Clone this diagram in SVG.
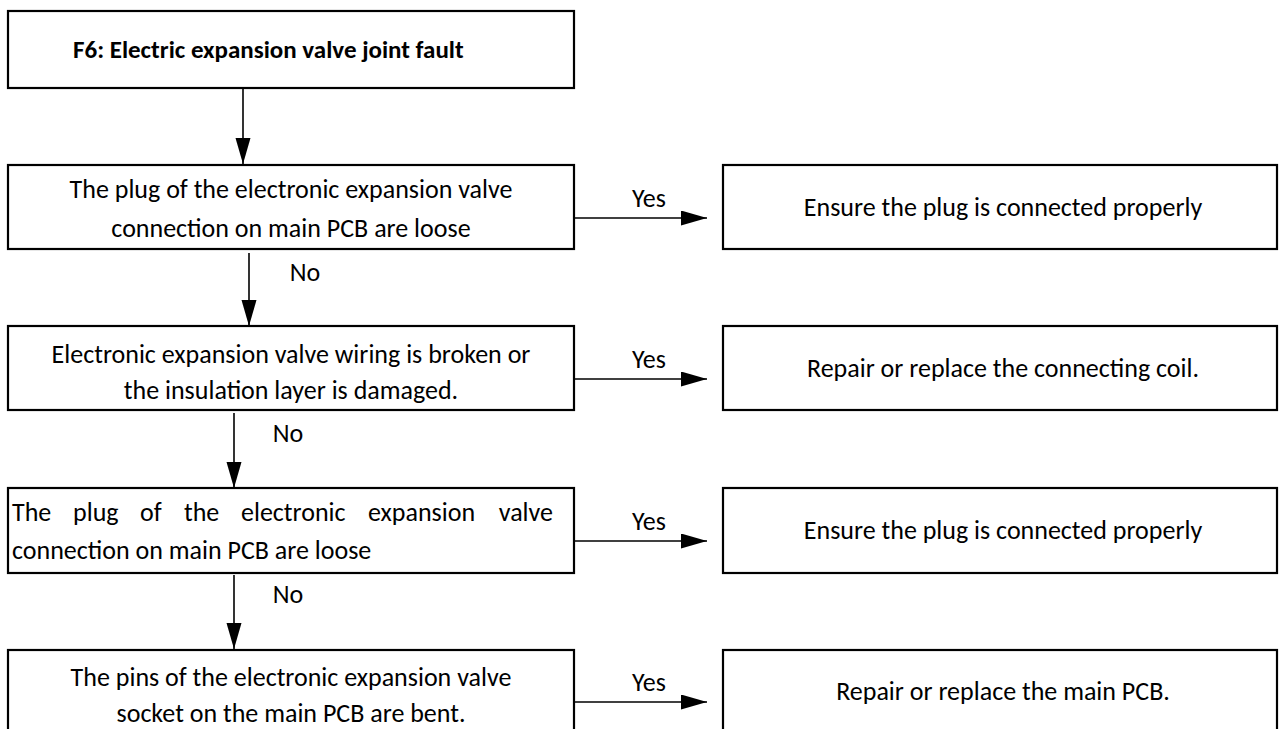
<svg xmlns="http://www.w3.org/2000/svg" width="1284" height="729" viewBox="0 0 1284 729">
<style>
.box{fill:#fff;stroke:#000;stroke-width:2.2}
.t{font-family:Carlito,Lato,"Liberation Sans",sans-serif;font-size:26px;fill:#000}
.c{text-anchor:middle}
.b{font-weight:bold;font-size:25px}
.ln{stroke:#000;stroke-width:1.6;fill:none}
</style>
<defs>
<marker id="ah" markerUnits="userSpaceOnUse" markerWidth="26" markerHeight="16" refX="26" refY="7.5" orient="auto">
<path d="M0,0 L26,7.5 L0,15 z" fill="#000"/>
</marker>
</defs>
<rect width="1284" height="729" fill="#fff"/>
<g id="connectors">
<line class="ln" x1="243" y1="88" x2="243" y2="164" marker-end="url(#ah)"/>
<line class="ln" x1="249" y1="253" x2="249" y2="326" marker-end="url(#ah)"/>
<line class="ln" x1="234" y1="413" x2="234" y2="488" marker-end="url(#ah)"/>
<line class="ln" x1="234" y1="575" x2="234" y2="649" marker-end="url(#ah)"/>
<line class="ln" x1="574" y1="218" x2="707" y2="218" marker-end="url(#ah)"/>
<line class="ln" x1="574" y1="379" x2="707" y2="379" marker-end="url(#ah)"/>
<line class="ln" x1="574" y1="541" x2="707" y2="541" marker-end="url(#ah)"/>
<line class="ln" x1="574" y1="702" x2="707" y2="702" marker-end="url(#ah)"/>
<text class="t c" x="649" y="207">Yes</text>
<text class="t c" x="649" y="368">Yes</text>
<text class="t c" x="649" y="530">Yes</text>
<text class="t c" x="649" y="691">Yes</text>
<text class="t c" x="305" y="281">No</text>
<text class="t c" x="288" y="442">No</text>
<text class="t c" x="288" y="603">No</text>
</g>
<g id="n1">
<rect class="box" x="8" y="11" width="566" height="77"/>
<text class="t b" x="73" y="58">F6: Electric expansion valve joint fault</text>
</g>
<g id="n2">
<rect class="box" x="8" y="165" width="566" height="84"/>
<text class="t c" x="291" y="198">The plug of the electronic expansion valve</text>
<text class="t c" x="291" y="237">connection on main PCB are loose</text>
</g>
<g id="n3">
<rect class="box" x="8" y="326" width="566" height="84"/>
<text class="t c" x="291" y="363">Electronic expansion valve wiring is broken or</text>
<text class="t c" x="291" y="399">the insulation layer is damaged.</text>
</g>
<g id="n4">
<rect class="box" x="8" y="488" width="566" height="85"/>
<text class="t" y="521"><tspan x="12">The</tspan> <tspan x="73">plug</tspan> <tspan x="140">of</tspan> <tspan x="184">the</tspan> <tspan x="241">electronic</tspan> <tspan x="368">expansion</tspan> <tspan x="553" text-anchor="end">valve</tspan></text>
<text class="t" x="12" y="559">connection on main PCB are loose</text>
</g>
<g id="n5">
<rect class="box" x="8" y="650" width="566" height="90"/>
<text class="t c" x="291" y="686">The pins of the electronic expansion valve</text>
<text class="t c" x="291" y="722">socket on the main PCB are bent.</text>
</g>
<g id="r1">
<rect class="box" x="723" y="165" width="554" height="84"/>
<text class="t c" x="1003" y="216">Ensure the plug is connected properly</text>
</g>
<g id="r2">
<rect class="box" x="723" y="326" width="554" height="84"/>
<text class="t c" x="1003" y="377">Repair or replace the connecting coil.</text>
</g>
<g id="r3">
<rect class="box" x="723" y="488" width="554" height="85"/>
<text class="t c" x="1003" y="539">Ensure the plug is connected properly</text>
</g>
<g id="r4">
<rect class="box" x="723" y="650" width="554" height="90"/>
<text class="t c" x="1003" y="700">Repair or replace the main PCB.</text>
</g>
</svg>
